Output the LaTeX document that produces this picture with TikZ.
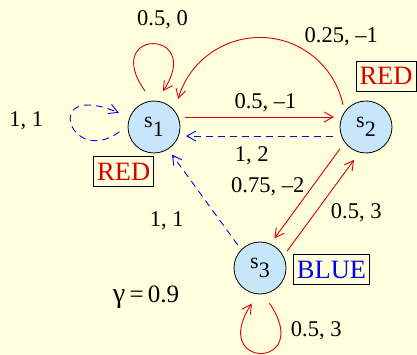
\documentclass[tikz,border=0pt]{standalone}
\usepackage{fontspec}
\setmainfont{Liberation Serif}
\usetikzlibrary{arrows.meta,calc}
\definecolor{bgyellow}{RGB}{255,255,221}
\definecolor{stateblue}{RGB}{200,230,250}
\definecolor{redc}{RGB}{215,0,0}
\definecolor{bluec}{RGB}{0,0,235}
\newcommand\mysub[1]{\raisebox{-0.42em}{#1}}
\tikzset{
  state/.style={circle,draw=black,fill=stateblue,line width=0.8pt,minimum size=52pt,inner sep=0pt,font=\fontsize{22}{24}\selectfont},
  lbl/.style={anchor=base,inner sep=0pt,font=\fontsize{22.5}{24}\selectfont},
  tag/.style={draw=black,line width=0.6pt,inner xsep=3.5pt,minimum height=30pt,font=\fontsize{26.5}{28}\selectfont},
  redline/.style={draw=redc,line width=0.9pt},
  blueline/.style={draw=bluec,line width=0.9pt,dash pattern=on 7pt off 5pt},
  >={Straight Barb[length=9pt,width=10pt]}
}
\begin{document}
\begin{tikzpicture}[x=1pt,y=-1pt]
\fill[bgyellow] (0,0) rectangle (417,355);
\useasboundingbox (0,0) rectangle (417,355);
\node[state] (s1) at (154,127) {s\mysub{1}};
\node[state] (s2) at (366,127) {s\mysub{2}};
\node[state] (s3) at (260,268) {s\mysub{3}};
\node[tag,text=redc] (t1) at (123.7,171.7) {RED};
\node[tag,text=redc] (t2) at (386,76) {RED};
\node[tag,text=bluec] (t3) at (331.5,269.5) {BLUE};
% connectors
\draw[redline,->] ($(s1)+(104:37pt)$) .. controls (100,28) and (205,28) .. ($(s1)+(76:37pt)$);
\draw[redline,->] ($(s2)+(136:32pt)$) arc[start angle=12,end angle=164,radius=85pt];
\draw[redline,->] ($(s1)+(31pt,10pt)$) -- ($(s2)+(-32pt,10pt)$);
\draw[blueline,->] ($(s2)+(-33pt,-9pt)$) -- ($(s1)+(32pt,-9pt)$);
\draw[blueline,->] ($(s3)+(134:32pt)$) -- ($(s1)+(-57:33pt)$);
\draw[redline,->] ($(s2)+(220:34pt)$) -- ($(s3)+(64:33pt)$);
\draw[redline,->] ($(s3)+(32:32pt)$) -- ($(s2)+(250:35pt)$);
\draw[redline,->] ($(s3)+(-75:36.5pt)$) .. controls (315,370) and (208,370) .. ($(s3)+(-103:36.5pt)$);
\draw[blueline,->] ($(s1)+(188:35pt)$) .. controls (70,168) and (40,80) .. ($(s1)+(158:38pt)$);
% labels
\node[lbl] (a) at (162.5,26) {0.5, 0};
\node[lbl] (b) at (341.3,42.7) {0.25, –1};
\node[lbl] (c) at (26.2,126.7) {1, 1};
\node[lbl] (d) at (265.5,109) {0.5, –1};
\node[lbl] (e) at (251.7,161.7) {1, 2};
\node[lbl] (f) at (267.7,192.7) {0.75, –2};
\node[lbl] (g) at (356.2,218.3) {0.5, 3};
\node[lbl] (h) at (166.7,226.7) {1, 1};
\node[lbl,font=\fontsize{25}{28}\selectfont] (i) at (146,302.3) {{\fontsize{28}{28}\selectfont γ}\,=\,0.9};
\node[lbl] (j) at (316.2,336.7) {0.5, 3};
\end{tikzpicture}
\end{document}
